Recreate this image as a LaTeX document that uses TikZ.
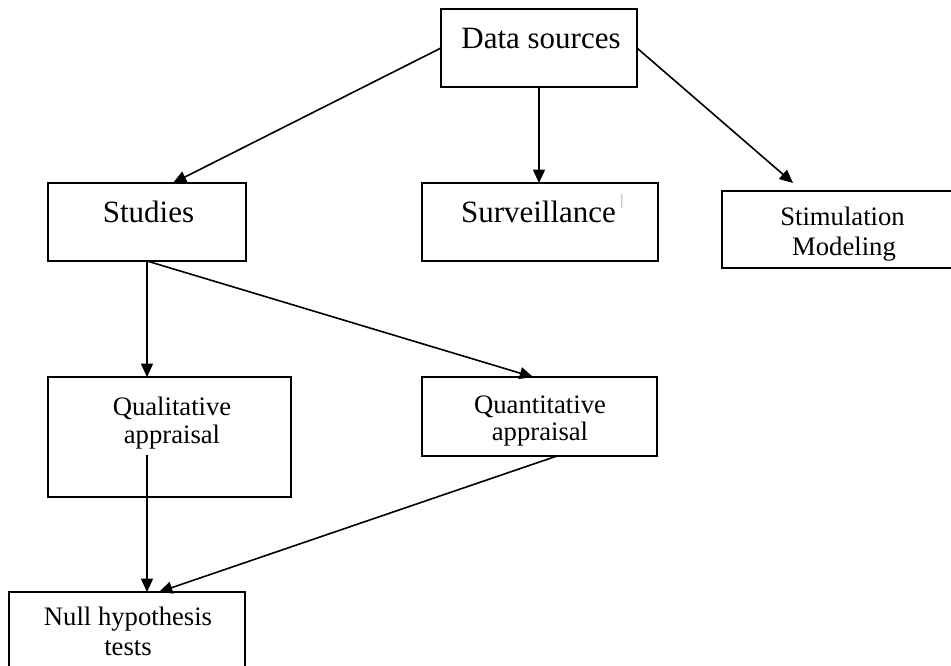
\documentclass[tikz,border=0pt]{standalone}
\usepackage{fontspec}
\setmainfont{Liberation Serif}
\usetikzlibrary{arrows.meta,calc}
\begin{document}
\begin{tikzpicture}[x=0.75pt,y=-0.75pt,
  box/.style={draw=black, line width=1.5pt, inner sep=0pt, outer sep=0pt, fill=white},
  bigtxt/.style={font=\fontsize{23.25pt}{28pt}\selectfont, inner sep=0pt, anchor=base},
  smalltxt/.style={font=\fontsize{20pt}{24pt}\selectfont, inner sep=0pt, anchor=base},
  arr/.style={draw=black, line width=1.2pt, -{Triangle[length=10pt,width=9pt]}}]
\clip (0,0) rectangle (951,665);
\fill[white] (0,0) rectangle (951,665);
% boxes
\node[box, minimum width=147pt, minimum height=58.5pt] (ds) at (539,48) {};
\node[box, minimum width=148.5pt, minimum height=58.5pt] (st) at (147,222) {};
\node[box, minimum width=177pt, minimum height=58.5pt] (sv) at (540,222) {};
\node[box, minimum width=177pt, minimum height=57.75pt] (sm) at (840,229.5) {};
\node[box, minimum width=182.25pt, minimum height=90pt] (ql) at (169.5,437) {};
\node[box, minimum width=176.25pt, minimum height=59.25pt] (qt) at (539.5,416.5) {};
\node[box, minimum width=177pt, minimum height=62.25pt] (nh) at (127,633.5) {};
% texts
\node[bigtxt] (dsT) at (541,48) {Data sources};
\node[bigtxt] (stT) at (148.5,222) {Studies};
\node[bigtxt] (svT) at (538.5,222) {Surveillance};
\node[font=\fontsize{12pt}{14pt}\selectfont, text=gray!70, inner sep=0pt, anchor=base] (svM) at (622,205) {|};
\node[smalltxt] (smT1) at (842.5,225) {Stimulation};
\node[smalltxt] (smT2) at (844,255) {Modeling};
\node[smalltxt] (qlT1) at (172,415) {Qualitative};
\node[smalltxt] (qlT2) at (172,443) {appraisal};
\node[smalltxt] (qtT1) at (540,413) {Quantitative};
\node[smalltxt] (qtT2) at (540,440) {appraisal};
\node[smalltxt] (nhT1) at (128,625) {Null hypothesis};
\node[smalltxt] (nhT2) at (128,655) {tests};
% connectors
\coordinate (qlOut) at ($(ql.south west)+(99,-42)$);
\draw[arr] (ds.west) -- ($(st.north west)+(125,0)$);
\draw[arr] (ds.south) -- (ds.south |- sv.north);
\draw[arr] (ds.east) -- ($(sm.north west)+(71,-8)$);
\draw[arr] (st.south) -- (st.south |- ql.north);
\draw[arr] (st.south) -- ($(qt.north west)+(111,0)$);
\draw[arr] (qlOut) -- (qlOut |- nh.north);
\draw[arr] ($(qt.south west)+(135,0)$) -- ($(nh.north west)+(150,0)$);
\end{tikzpicture}
\end{document}
